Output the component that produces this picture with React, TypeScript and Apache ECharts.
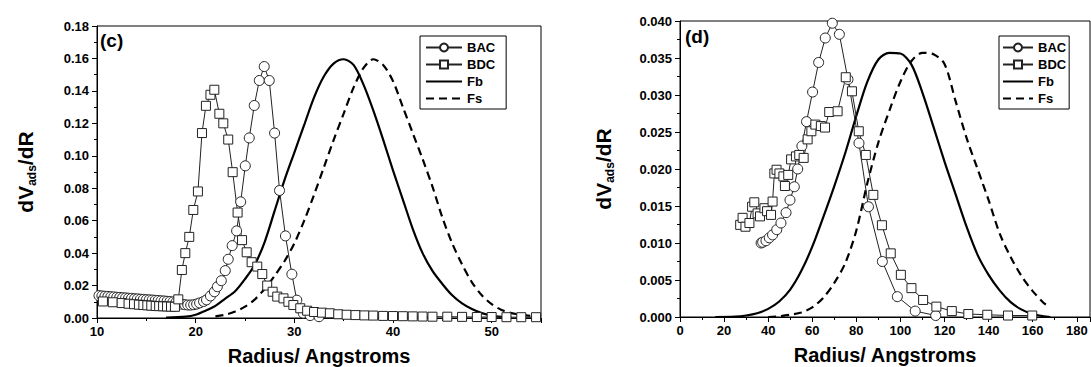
import React, { useEffect, useRef } from "react";
import * as echarts from "echarts";

// ---------- panel (c) ----------
const cBAC: number[][] = [
  [10.2, 0.0138], [10.5, 0.0136], [10.8, 0.0134], [11.1, 0.0133], [11.4, 0.0131], [11.7, 0.013],
  [12.0, 0.0128], [12.3, 0.0127], [12.6, 0.0125], [12.9, 0.0124], [13.2, 0.0122], [13.5, 0.0121],
  [13.8, 0.0119], [14.1, 0.0118], [14.4, 0.0116], [14.7, 0.0115], [15.0, 0.0113], [15.3, 0.0112],
  [15.6, 0.0111], [15.9, 0.0109], [16.2, 0.0108], [16.5, 0.0106], [16.8, 0.0105], [17.1, 0.0103],
  [17.4, 0.0101], [17.7, 0.0099], [18.0, 0.0097], [18.3, 0.009], [18.6, 0.0085], [18.9, 0.0082],
  [19.2, 0.008], [19.5, 0.008], [19.8, 0.0082], [20.1, 0.0086], [20.4, 0.0093], [20.8, 0.0102],
  [21.1, 0.0112], [21.5, 0.0136], [21.9, 0.0162], [22.2, 0.0193], [22.6, 0.023], [23.0, 0.0292],
  [23.3, 0.0362], [23.7, 0.0446], [24.15, 0.0537], [24.56, 0.0716], [25.03, 0.0938], [25.43, 0.111],
  [25.94, 0.131], [26.45, 0.1464], [26.95, 0.155], [27.46, 0.1464], [28.0, 0.114], [28.5, 0.0786],
  [29.1, 0.0506], [29.75, 0.027], [30.25, 0.011], [30.9, 0.003], [31.6, 0.0015], [32.5, 0.0008],
];
const cBDC: number[][] = [
  [10.6, 0.0102], [11.6, 0.0097], [12.5, 0.0092], [13.2, 0.0088], [13.75, 0.0085], [14.25, 0.0082],
  [14.7, 0.008], [15.1, 0.0078], [15.5, 0.0076], [15.95, 0.0074], [16.3, 0.0073], [16.7, 0.0072],
  [17.1, 0.0071], [17.5, 0.007], [17.9, 0.0069], [18.24, 0.0115], [18.6, 0.0296], [18.95, 0.04],
  [19.35, 0.05], [19.76, 0.0666], [20.23, 0.078], [20.64, 0.114], [21.04, 0.1308], [21.5, 0.1376],
  [21.89, 0.1407], [22.4, 0.1259], [22.8, 0.12], [23.3, 0.11], [23.75, 0.0899], [24.25, 0.065],
  [24.7, 0.048], [25.17, 0.0405], [25.67, 0.0344], [26.24, 0.0317], [26.75, 0.0271], [27.25, 0.02],
  [27.8, 0.0162], [28.27, 0.0132], [28.9, 0.0121], [29.4, 0.01], [29.9, 0.008], [30.6, 0.006],
  [31.3, 0.0045], [32.0, 0.0037], [32.8, 0.0033], [33.6, 0.0029], [34.45, 0.0023], [35.3, 0.002],
  [36.2, 0.0018], [37.1, 0.0016], [38.0, 0.0015], [39.0, 0.0013], [40.0, 0.0012], [41.0, 0.0011],
  [42.0, 0.001], [43.0, 0.0009], [44.0, 0.0008], [45.5, 0.0008], [47.0, 0.0007], [48.5, 0.0006],
  [50.0, 0.0006], [51.5, 0.0005], [53.0, 0.0005], [54.5, 0.0005],
];
const cFb: number[][] = [
  [17, 0.0002], [19, 0.0008], [20, 0.002], [21, 0.0045], [22, 0.0075], [23, 0.012], [24, 0.0165],
  [25, 0.024], [26, 0.033], [27, 0.047], [28, 0.066], [29, 0.085], [30, 0.102], [31, 0.119],
  [32, 0.136], [33, 0.149], [34, 0.157], [35, 0.1595], [36, 0.156], [37, 0.144], [38, 0.128],
  [39, 0.11], [40, 0.091], [41, 0.073], [42, 0.055], [43, 0.04], [44, 0.029], [45, 0.021],
  [46, 0.014], [47, 0.009], [48, 0.0055], [49, 0.003], [50, 0.0015], [51, 0.0007], [52, 0.0003],
];
const cFs: number[][] = [
  [22, 0.001], [23, 0.002], [24, 0.004], [25, 0.007], [26, 0.0115], [27, 0.018], [28, 0.026],
  [29, 0.035], [30, 0.046], [31, 0.06], [32, 0.076], [33, 0.093], [34, 0.11], [35, 0.126],
  [36, 0.142], [37, 0.154], [38, 0.1595], [39, 0.156], [40, 0.146], [41, 0.13], [42, 0.114],
  [43, 0.098], [44, 0.081], [45, 0.062], [46, 0.046], [47, 0.033], [48, 0.022], [49, 0.014],
  [50, 0.0085], [51, 0.005], [52, 0.003], [53, 0.002], [54, 0.0013], [55, 0.0008],
];

// ---------- panel (d) ----------
const dBAC: number[][] = [
  [36.8, 0.01], [37.5, 0.0101], [39.0, 0.0103], [40.5, 0.0107], [42.0, 0.0111], [43.9, 0.0118],
  [45.8, 0.0127], [48.1, 0.0141], [49.9, 0.0158], [51.85, 0.0176], [53.4, 0.02], [55.3, 0.0231],
  [57.4, 0.0264], [60.15, 0.0304], [62.9, 0.0344], [65.9, 0.0377], [69.1, 0.0397], [72.3, 0.0382],
  [76.2, 0.0321], [81.2, 0.0235], [85.5, 0.0149], [91.8, 0.0075], [98.6, 0.00275], [106.7, 0.0008],
  [116, 0.0002],
];
const dBDC: number[][] = [
  [27.3, 0.01245], [28.4, 0.0134], [29.7, 0.0122], [31.5, 0.0127], [32.7, 0.0149], [33.7, 0.0155],
  [35.2, 0.014], [36.3, 0.0136], [38.3, 0.0147], [39.5, 0.0143], [41.3, 0.0138], [42.0, 0.0156],
  [42.8, 0.0194], [43.8, 0.0199], [45.1, 0.0194], [46.9, 0.019], [47.6, 0.0177], [49.1, 0.0192],
  [50.4, 0.0213], [52.6, 0.0217], [54.1, 0.0219], [56.1, 0.0215], [57.9, 0.024], [59.6, 0.0251],
  [61.4, 0.026], [63.9, 0.0258], [65.8, 0.0256], [67.7, 0.0277], [71.5, 0.0278], [75.2, 0.0324],
  [78.0, 0.0305], [81.1, 0.0251], [84.3, 0.0219], [87.7, 0.0165], [91.6, 0.0124], [95.6, 0.0086],
  [100.2, 0.0057], [105, 0.0039], [110.3, 0.0023], [116.3, 0.0014], [123.3, 0.0008], [130.8, 0.0004],
  [139.4, 0.0003], [148.8, 0.0002], [159.8, 0.0002],
];
const dFb: number[][] = [
  [16, 0.0], [25, 0.00005], [30, 0.0002], [35, 0.0005], [40, 0.0011], [45, 0.0021], [50, 0.0037],
  [55, 0.0062], [60, 0.0095], [65, 0.0135], [70, 0.0177], [75, 0.0222], [80, 0.0272], [85, 0.0318],
  [90, 0.0348], [95, 0.0357], [100, 0.0356], [105, 0.0341], [110, 0.0303], [115, 0.0257], [120, 0.021],
  [125, 0.0166], [130, 0.0122], [135, 0.0084], [140, 0.0057], [145, 0.0036], [150, 0.002],
  [155, 0.001], [160, 0.0004], [165, 0.0001], [168, 0.0],
];
const dFs: number[][] = [
  [40, 0.0], [45, 0.0001], [50, 0.0003], [55, 0.0006], [60, 0.0013], [65, 0.0026], [70, 0.0046],
  [75, 0.0073], [80, 0.0117], [85, 0.0181], [90, 0.0236], [95, 0.0279], [100, 0.0318], [105, 0.0346],
  [110, 0.0357], [115, 0.0355], [120, 0.0342], [125, 0.0292], [130, 0.0242], [135, 0.02], [140, 0.0158],
  [145, 0.0113], [150, 0.0081], [155, 0.0055], [160, 0.0035], [165, 0.0019], [166, 0.0017],
];

const seriesNames = ["BAC", "BDC", "Fb", "Fs"];
const xTitle = "Radius/ Angstroms";
const panelLabels = ["(c)", "(d)"];

const FONT = "'Liberation Sans', Arial, sans-serif";

export default function App() {
  const ref = useRef<HTMLDivElement>(null);
  useEffect(() => {
    if (!ref.current) return;
    const chart = echarts.init(ref.current, null, { renderer: "svg" });

    const markerSeries = (name: string, data: number[][], idx: number, symbol: string, size: number) => ({
      name,
      type: "line",
      data,
      xAxisIndex: idx,
      yAxisIndex: idx,
      symbol,
      symbolSize: size,
      showAllSymbol: true,
      lineStyle: { color: "#222", width: 1 },
      itemStyle: { color: "#fff", borderColor: "#222", borderWidth: 1 },
      z: 3,
    });
    const curveSeries = (name: string, data: number[][], idx: number, dashed: boolean) => ({
      name,
      type: "line",
      data,
      xAxisIndex: idx,
      yAxisIndex: idx,
      smooth: 0.3,
      showSymbol: false,
      symbol: "none",
      lineStyle: { color: "#000", width: 2.2, type: dashed ? [8, 5] : "solid" },
      itemStyle: { color: "#000" },
      z: 2,
    });

    const xAxisCommon = (min: number, max: number, interval: number, gridIndex: number) => ({
      type: "value",
      gridIndex,
      min,
      max,
      interval,
      name: xTitle,
      nameLocation: "middle",
      nameGap: 28,
      nameTextStyle: { fontFamily: FONT, fontWeight: "bold", fontSize: 20, color: "#000" },
      axisLine: { show: true, onZero: false, lineStyle: { color: "#000", width: 1 } },
      axisTick: { show: true, inside: false, length: 5, lineStyle: { color: "#000" } },
      minorTick: { show: true, splitNumber: 2, length: 3, lineStyle: { color: "#000" } },
      splitLine: { show: false },
      axisLabel: {
        fontFamily: FONT,
        fontWeight: "bold",
        fontSize: 13,
        color: "#000",
        margin: 7,
        formatter: (v: number) => (Math.abs(v / interval - Math.round(v / interval)) < 1e-6 ? String(v) : ""),
      },
    });
    const yAxisCommon = (max: number, interval: number, digits: number, gridIndex: number, gap: number) => ({
      type: "value",
      gridIndex,
      min: 0,
      max,
      interval,
      name: "{a|dV}{b|ads}{a|/dR}",
      nameLocation: "middle",
      nameGap: gap,
      nameRotate: 90,
      nameTextStyle: {
        color: "#000",
        rich: {
          a: { fontFamily: FONT, fontWeight: "bold", fontSize: 21, color: "#000", lineHeight: 26 },
          b: { fontFamily: FONT, fontWeight: "bold", fontSize: 12, color: "#000", verticalAlign: "bottom", lineHeight: 26 },
        },
      },
      axisLine: { show: true, lineStyle: { color: "#000", width: 1 } },
      axisTick: { show: true, inside: false, length: 5, lineStyle: { color: "#000" } },
      minorTick: { show: true, splitNumber: 2, length: 3, lineStyle: { color: "#000" } },
      splitLine: { show: false },
      axisLabel: {
        fontFamily: FONT,
        fontWeight: "bold",
        fontSize: 13,
        color: "#000",
        margin: 8,
        formatter: (v: number) => v.toFixed(digits),
      },
    });

    const hidden = { color: "rgba(0,0,0,0)", borderColor: "rgba(0,0,0,0)", opacity: 0 };
    const legendCommon = (left: number, top: number, itemWidth: number, padding: number[]) => ({
      orient: "vertical",
      left,
      top,
      data: [
        { name: seriesNames[0] },
        { name: seriesNames[1] },
        { name: seriesNames[2], itemStyle: hidden },
        { name: seriesNames[3], itemStyle: hidden },
      ],
      borderColor: "#000",
      borderWidth: 1,
      borderRadius: 0,
      padding,
      itemGap: 4,
      itemWidth,
      itemHeight: 10,
      selectedMode: false,
      textStyle: { fontFamily: FONT, fontWeight: "bold", fontSize: 13, color: "#000" },
    });

    chart.setOption({
      animation: false,
      backgroundColor: "#fff",
      grid: [
        { left: 97, top: 26, width: 444, height: 292, show: true, borderColor: "#000", borderWidth: 1, backgroundColor: "transparent", outerBoundsMode: "none", containLabel: false },
        { left: 680, top: 21, width: 410, height: 296, show: true, borderColor: "#000", borderWidth: 1, backgroundColor: "transparent", outerBoundsMode: "none", containLabel: false },
      ],
      xAxis: [xAxisCommon(10, 55, 10, 0), xAxisCommon(0, 186, 20, 1)],
      yAxis: [yAxisCommon(0.18, 0.02, 2, 0, 59), yAxisCommon(0.04, 0.005, 3, 1, 64)],
      legend: [legendCommon(420, 36, 36, [5, 11, 4, 5]), legendCommon(999, 36, 30, [5, 3, 4, 3])],
      graphic: [
        { type: "text", left: 100, top: 31, style: { text: panelLabels[0], font: `bold 19px ${FONT}`, fill: "#000" } },
        { type: "text", left: 685, top: 27, style: { text: panelLabels[1], font: `bold 19px ${FONT}`, fill: "#000" } },
      ],
      series: [
        markerSeries("BAC", cBAC, 0, "circle", 10),
        markerSeries("BDC", cBDC, 0, "rect", 9),
        curveSeries("Fb", cFb, 0, false),
        curveSeries("Fs", cFs, 0, true),
        markerSeries("BAC", dBAC, 1, "circle", 10),
        markerSeries("BDC", dBDC, 1, "rect", 9),
        curveSeries("Fb", dFb, 1, false),
        curveSeries("Fs", dFs, 1, true),
      ],
    });
    return () => chart.dispose();
  }, []);
  return <div ref={ref} style={{ position: "absolute", left: 0, top: 0, width: 1091, height: 367 }} />;
}
